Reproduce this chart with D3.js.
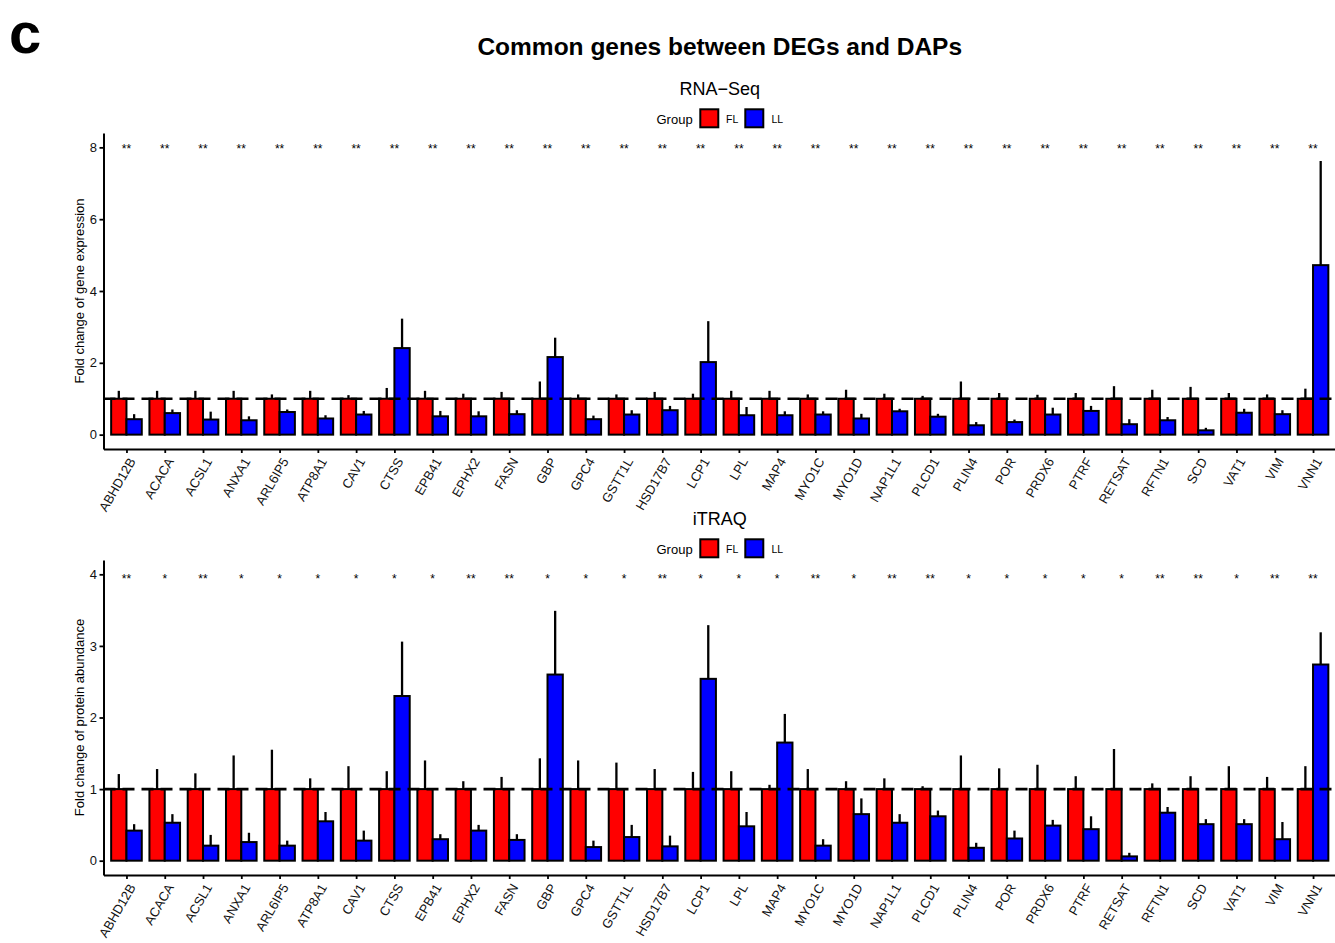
<!DOCTYPE html>
<html>
<head>
<meta charset="utf-8">
<script src="https://cdn.jsdelivr.net/npm/d3@7"></script>
<style>
  html, body { margin: 0; padding: 0; background: #fff; }
  svg { display: block; font-family: "Liberation Sans", Arial, Helvetica, sans-serif; }
</style>
</head>
<body>
<svg id="chart" width="1335" height="943"></svg>
<script>
// ---------------- data ----------------
const genes = ["ABHD12B","ACACA","ACSL1","ANXA1","ARL6IP5","ATP8A1","CAV1","CTSS","EPB41","EPHX2","FASN","GBP","GPC4","GSTT1L","HSD17B7","LCP1","LPL","MAP4","MYO1C","MYO1D","NAP1L1","PLCD1","PLIN4","POR","PRDX6","PTRF","RETSAT","RFTN1","SCD","VAT1","VIM","VNN1"];
const groups = ["FL", "LL"];
const groupColors = ["#FF0000", "#0000FF"];

// RNA-Seq: fold change of gene expression (mean and SD)
const rnaFL   = [1,1,1,1,1,1,1,1,1,1,1,1,1,1,1,1,1,1,1,1,1,1,1,1,1,1,1,1,1,1,1,1];
const rnaFLsd = [0.22,0.22,0.22,0.22,0.12,0.22,0.10,0.30,0.22,0.14,0.19,0.48,0.12,0.12,0.19,0.14,0.22,0.22,0.12,0.25,0.14,0.08,0.48,0.16,0.11,0.16,0.35,0.25,0.33,0.16,0.12,0.28];
const rnaLL   = [0.43,0.60,0.42,0.40,0.63,0.45,0.56,2.41,0.51,0.51,0.57,2.16,0.43,0.56,0.68,2.02,0.54,0.54,0.56,0.45,0.65,0.50,0.26,0.35,0.56,0.66,0.29,0.40,0.12,0.61,0.57,4.72];
const rnaLLsd = [0.14,0.10,0.22,0.11,0.07,0.09,0.10,0.82,0.15,0.14,0.11,0.54,0.10,0.12,0.12,1.14,0.23,0.11,0.09,0.13,0.07,0.08,0.09,0.07,0.19,0.14,0.14,0.09,0.07,0.11,0.11,2.90];
const rnaSig  = ["**","**","**","**","**","**","**","**","**","**","**","**","**","**","**","**","**","**","**","**","**","**","**","**","**","**","**","**","**","**","**","**"];

// iTRAQ: fold change of protein abundance (mean and SD)
const itraqFL   = [1,1,1,1,1,1,1,1,1,1,1,1,1,1,1,1,1,1,1,1,1,1,1,1,1,1,1,1,1,1,1,1];
const itraqFLsd = [0.21,0.28,0.22,0.47,0.55,0.15,0.32,0.25,0.40,0.11,0.17,0.43,0.40,0.37,0.28,0.24,0.25,0.06,0.28,0.11,0.15,0.04,0.47,0.29,0.34,0.18,0.56,0.08,0.18,0.32,0.17,0.32];
const itraqLL   = [0.42,0.53,0.21,0.26,0.21,0.55,0.28,2.30,0.30,0.42,0.29,2.60,0.19,0.33,0.20,2.54,0.48,1.65,0.21,0.65,0.53,0.62,0.18,0.31,0.49,0.44,0.06,0.67,0.51,0.51,0.30,2.74];
const itraqLLsd = [0.09,0.12,0.15,0.13,0.07,0.13,0.14,0.76,0.07,0.08,0.08,0.89,0.09,0.17,0.15,0.75,0.20,0.40,0.09,0.22,0.12,0.08,0.07,0.11,0.08,0.18,0.05,0.08,0.07,0.07,0.24,0.45];
const itraqSig  = ["**","*","**","*","*","*","*","*","*","**","**","*","*","*","**","*","*","*","**","*","**","**","*","*","*","*","*","**","**","*","**","**"];

const rnaTicks = [0, 2, 4, 6, 8];
const itraqTicks = [0, 1, 2, 3, 4];

// ---------------- drawing ----------------
const svg = d3.select("#chart");
svg.append("rect").attr("width", 1335).attr("height", 943).attr("fill", "#fff");

const left = 103.5, right = 1336;
const x = d3.scalePoint().domain(genes).range([left, right]).padding(0.6);
const step = x.step();
const xg = d3.scaleBand().domain(groups).range([-0.4 * step, 0.4 * step]).padding(0);
const color = d3.scaleOrdinal().domain(groups).range(groupColors);

// panel label and main title
svg.append("text").attr("x", 9).attr("y", 52.5)
  .attr("font-size", 58).attr("font-weight", "bold").attr("fill", "#000").text("c");
svg.append("text").attr("x", (left + right) / 2).attr("y", 55)
  .attr("text-anchor", "middle").attr("font-size", 24.5).attr("font-weight", "bold")
  .attr("fill", "#000").text("Common genes between DEGs and DAPs");

function drawPanel(cfg) {
  const g = svg.append("g");
  const y = d3.scaleLinear().domain(cfg.yDomain).range([cfg.bottom, cfg.top]);

  // subtitle
  g.append("text").attr("x", (left + right) / 2).attr("y", cfg.titleY)
    .attr("text-anchor", "middle").attr("font-size", 18).attr("fill", "#000").text(cfg.title);

  // legend
  const ly = cfg.titleY + 24;
  const lg = g.append("g");
  lg.append("text").attr("x", 656.5).attr("y", ly + 5).attr("font-size", 13).attr("fill", "#000").text("Group");
  const keyX = [700.3, 745.3], labX = [726, 771.5];
  groups.forEach((grp, i) => {
    lg.append("rect").attr("x", keyX[i]).attr("y", ly - 9.7).attr("width", 18).attr("height", 18)
      .attr("fill", color(grp)).attr("stroke", "#000").attr("stroke-width", 2);
    lg.append("text").attr("x", labX[i]).attr("y", ly + 4).attr("font-size", 10.5).attr("fill", "#000").text(grp);
  });

  const rows = genes.map((gene, i) => ({
    gene,
    sig: cfg.sig[i],
    vals: [
      { grp: "FL", mean: cfg.fl[i], sd: cfg.flSd[i] },
      { grp: "LL", mean: cfg.ll[i], sd: cfg.llSd[i] }
    ]
  }));

  const gg = g.selectAll("g.gene").data(rows).join("g").attr("class", "gene")
    .attr("transform", d => `translate(${x(d.gene)},0)`);

  // bars
  gg.selectAll("rect").data(d => d.vals).join("rect")
    .attr("x", v => xg(v.grp))
    .attr("width", xg.bandwidth())
    .attr("y", v => y(v.mean))
    .attr("height", v => y(0) - y(v.mean))
    .attr("fill", v => color(v.grp))
    .attr("stroke", "#000").attr("stroke-width", 2);

  // error bars (upper only)
  gg.selectAll("line.err").data(d => d.vals).join("line").attr("class", "err")
    .attr("x1", v => xg(v.grp) + xg.bandwidth() / 2)
    .attr("x2", v => xg(v.grp) + xg.bandwidth() / 2)
    .attr("y1", v => y(v.mean))
    .attr("y2", v => y(v.mean + v.sd))
    .attr("stroke", "#000").attr("stroke-width", 2.3);

  // significance stars
  gg.append("text").attr("x", 0).attr("y", y(cfg.starY) + 7)
    .attr("text-anchor", "middle").attr("font-size", 12).attr("fill", "#000")
    .text(d => d.sig);

  // reference line at 1
  g.append("line").attr("x1", left).attr("x2", right)
    .attr("y1", y(1)).attr("y2", y(1))
    .attr("stroke", "#000").attr("stroke-width", 2.6).attr("stroke-dasharray", "12,7");

  // y axis
  const ya = g.append("g").attr("transform", `translate(${left},0)`)
    .call(d3.axisLeft(y).tickValues(cfg.ticks).tickSize(4).tickSizeOuter(0).tickPadding(2.5).tickFormat(d3.format("d")));
  ya.select(".domain").attr("stroke", "#000").attr("stroke-width", 2);
  ya.selectAll(".tick line").attr("stroke", "#000").attr("stroke-width", 1.8);
  ya.selectAll(".tick text").attr("font-size", 13).attr("fill", "#111").attr("font-family", null);

  // x axis
  const xa = g.append("g").attr("transform", `translate(0,${cfg.bottom})`)
    .call(d3.axisBottom(x).tickSize(4).tickSizeOuter(0).tickPadding(0));
  xa.select(".domain").attr("stroke", "#000").attr("stroke-width", 2.2);
  xa.selectAll(".tick line").attr("stroke", "#000").attr("stroke-width", 1.8);
  xa.selectAll(".tick text")
    .attr("font-size", 13).attr("fill", "#111").attr("font-family", null)
    .attr("text-anchor", "end")
    .attr("y", 0).attr("dy", "0.8em")
    .attr("transform", "translate(0,7) rotate(-60)");

  // y axis title
  g.append("text")
    .attr("transform", `translate(84,${(cfg.top + cfg.bottom) / 2}) rotate(-90)`)
    .attr("text-anchor", "middle").attr("font-size", 13).attr("fill", "#000")
    .text(cfg.yLabel);
}

drawPanel({
  title: "RNA\u2212Seq", titleY: 95,
  top: 133, bottom: 449, yDomain: [-0.4, 8.4], ticks: rnaTicks, starY: 8.05,
  fl: rnaFL, flSd: rnaFLsd, ll: rnaLL, llSd: rnaLLsd, sig: rnaSig,
  yLabel: "Fold change of gene expression"
});

drawPanel({
  title: "iTRAQ", titleY: 525,
  top: 560, bottom: 875, yDomain: [-0.2, 4.2], ticks: itraqTicks, starY: 3.97,
  fl: itraqFL, flSd: itraqFLsd, ll: itraqLL, llSd: itraqLLsd, sig: itraqSig,
  yLabel: "Fold change of protein abundance"
});
</script>
</body>
</html>
